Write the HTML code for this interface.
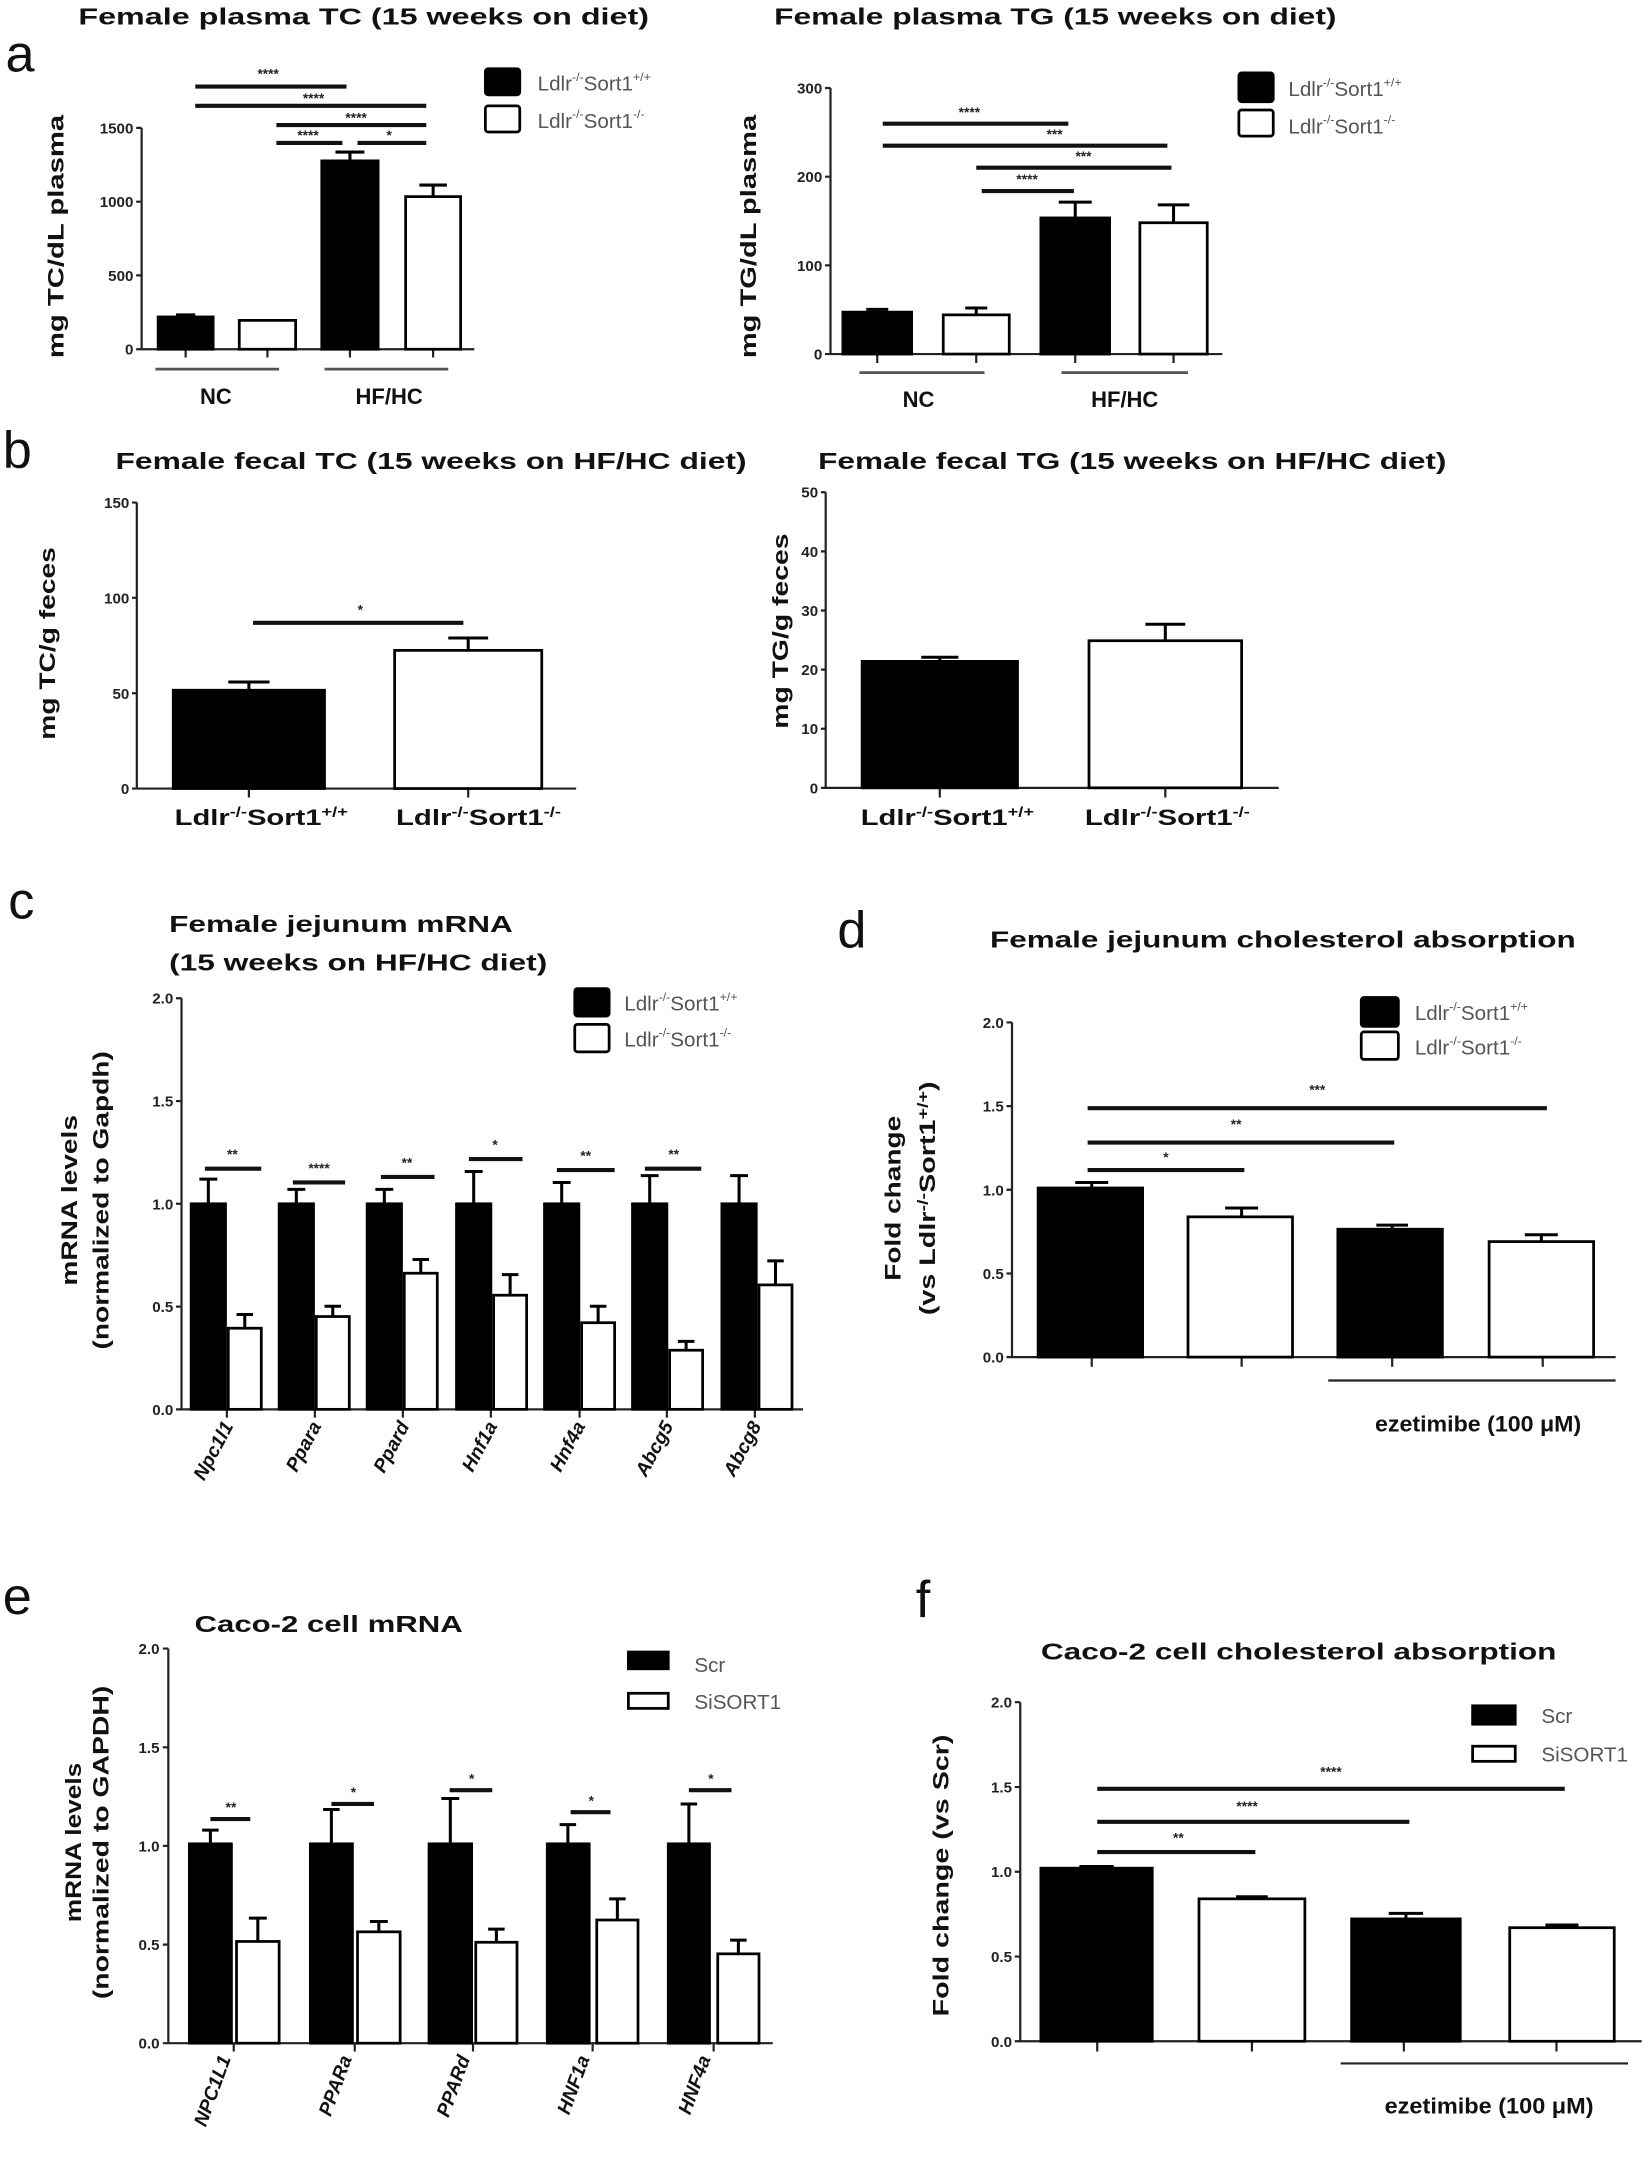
<!DOCTYPE html>
<html><head><meta charset="utf-8"><style>
html,body{margin:0;padding:0;background:#fff}
svg{display:block}
.t{font-family:"Liberation Sans Narrow","Liberation Sans",sans-serif;font-weight:bold;fill:#111}
.tk{font-family:"Liberation Sans Narrow","Liberation Sans",sans-serif;font-weight:bold;font-size:11px;fill:#222;text-anchor:end}
.yl{font-family:"Liberation Sans",sans-serif;font-weight:bold;font-size:16px;fill:#111;text-anchor:middle}
.lg{font-family:"Liberation Sans Narrow","Liberation Sans",sans-serif;font-size:15px;fill:#555}
.st{font-family:"Liberation Sans",sans-serif;font-weight:bold;font-size:10px;fill:#222;text-anchor:middle}
.lt{font-family:"Liberation Sans",sans-serif;font-size:38px;fill:#111}
.xl{font-family:"Liberation Sans Narrow","Liberation Sans",sans-serif;font-weight:bold;font-size:16px;fill:#111;text-anchor:middle}
.xr{font-family:"Liberation Sans",sans-serif;font-weight:bold;font-style:italic;font-size:14px;fill:#111;text-anchor:end}
.ax{stroke:#222;stroke-width:1.6;fill:none}
.sg{stroke:#111;stroke-width:3;fill:none}
.gl{stroke:#555;stroke-width:2;fill:none}
.b{fill:#000;stroke:#000;stroke-width:2}
.w{fill:#fff;stroke:#000;stroke-width:2}
.e{stroke:#000;stroke-width:2.2;fill:none}
</style></head><body>
<svg width="1650" height="2162" viewBox="0 0 1200 1572.4" xmlns="http://www.w3.org/2000/svg">

<!-- ===== Panel a TC ===== -->
<text class="lt" x="4" y="52">a</text>
<text class="t" x="57" y="18" font-size="17" textLength="415" lengthAdjust="spacingAndGlyphs">Female plasma TC (15 weeks on diet)</text>
<text class="yl" transform="rotate(-90 46 172)" x="46" y="172" textLength="177" lengthAdjust="spacingAndGlyphs">mg TC/dL  plasma</text>
<path class="ax" d="M103 93V254H345M99 93H103M99 200.3H103M99 146.7H103M99 254H103M135 254V260M194.5 254V260M254.5 254V260M315 254V260"/>
<text class="tk" x="97" y="97">1500</text><text class="tk" x="97" y="150.7">1000</text><text class="tk" x="97" y="204.3">500</text><text class="tk" x="97" y="258">0</text>
<rect class="b" x="115" y="230.5" width="40" height="23.5"/><path class="e" d="M135 230.5V229M128 229H142"/>
<rect class="w" x="174" y="233" width="41" height="21"/>
<rect class="b" x="234" y="117" width="41" height="137"/><path class="e" d="M254.5 117V110.6M244 110.6H265"/>
<rect class="w" x="295" y="143" width="40" height="111"/><path class="e" d="M315 143V134.6M305 134.6H325"/>
<path class="sg" d="M142 63H252M142 77H310M201 91H310M201 104H249M260 104H310"/>
<text class="st" x="195" y="57">****</text><text class="st" x="228" y="75">****</text><text class="st" x="259" y="89">****</text><text class="st" x="224" y="102">****</text><text class="st" x="283" y="102">*</text>
<path class="gl" d="M113 268.5H203M236 268.5H326"/>
<text class="xl" x="157" y="294">NC</text><text class="xl" x="283" y="294">HF/HC</text>
<rect class="b" x="353" y="50" width="25" height="19" rx="2"/><rect class="w" x="353" y="77" width="25" height="19" rx="2"/>
<text class="lg" x="391" y="66">Ldlr<tspan font-size="9" dy="-7">-/-</tspan><tspan dy="7">Sort1</tspan><tspan font-size="9" dy="-7">+/+</tspan></text>
<text class="lg" x="391" y="93">Ldlr<tspan font-size="9" dy="-7">-/-</tspan><tspan dy="7">Sort1</tspan><tspan font-size="9" dy="-7">-/-</tspan></text>

<!-- ===== Panel a TG ===== -->
<text class="t" x="563" y="18" font-size="17" textLength="409" lengthAdjust="spacingAndGlyphs">Female plasma TG (15 weeks on diet)</text>
<text class="yl" transform="rotate(-90 550 172)" x="550" y="172" textLength="177" lengthAdjust="spacingAndGlyphs">mg TG/dL  plasma</text>
<path class="ax" d="M604 64V257.5H889M600 64H604M600 128.5H604M600 193H604M600 257.5H604M638 257.5V264M710 257.5V264M782 257.5V264M853.5 257.5V264"/>
<text class="tk" x="598" y="68">300</text><text class="tk" x="598" y="132.5">200</text><text class="tk" x="598" y="197">100</text><text class="tk" x="598" y="261.5">0</text>
<rect class="b" x="613" y="227" width="50" height="30.5"/><path class="e" d="M638 227V225M630 225H646"/>
<rect class="w" x="686" y="229" width="48" height="28.5"/><path class="e" d="M710 229V224M702 224H718"/>
<rect class="b" x="757" y="158.5" width="50" height="99"/><path class="e" d="M782 158.5V147M770 147H794"/>
<rect class="w" x="829" y="162" width="49" height="95.5"/><path class="e" d="M853.5 162V149M842 149H865"/>
<path class="sg" d="M642 90H777M642 106H849M710 122H852M714 139H781"/>
<text class="st" x="705" y="85">****</text><text class="st" x="767" y="101">***</text><text class="st" x="788" y="117">***</text><text class="st" x="747" y="134">****</text>
<path class="gl" d="M625 271H716M772 271H864"/>
<text class="xl" x="668" y="296">NC</text><text class="xl" x="818" y="296">HF/HC</text>
<rect class="b" x="901" y="53" width="25" height="21" rx="2"/><rect class="w" x="901" y="80" width="25" height="19" rx="2"/>
<text class="lg" x="937" y="70">Ldlr<tspan font-size="9" dy="-7">-/-</tspan><tspan dy="7">Sort1</tspan><tspan font-size="9" dy="-7">+/+</tspan></text>
<text class="lg" x="937" y="97">Ldlr<tspan font-size="9" dy="-7">-/-</tspan><tspan dy="7">Sort1</tspan><tspan font-size="9" dy="-7">-/-</tspan></text>

<!-- ===== Panel b TC ===== -->
<text class="lt" x="2" y="340">b</text>
<text class="t" x="84" y="341" font-size="17" textLength="459" lengthAdjust="spacingAndGlyphs">Female fecal TC (15 weeks on HF/HC diet)</text>
<text class="yl" transform="rotate(-90 40 468)" x="40" y="468" textLength="140" lengthAdjust="spacingAndGlyphs">mg TC/g feces</text>
<path class="ax" d="M99.5 365.5V573.5H419M96 365.5H99.5M96 434.8H99.5M96 504.2H99.5M96 573.5H99.5M181 573.5V580M340.5 573.5V580"/>
<text class="tk" x="94" y="369.5">150</text><text class="tk" x="94" y="438.8">100</text><text class="tk" x="94" y="508.2">50</text><text class="tk" x="94" y="577.5">0</text>
<rect class="b" x="126" y="502" width="110" height="71.5"/><path class="e" d="M181 502V496M166 496H196"/>
<rect class="w" x="287" y="473" width="107" height="100.5"/><path class="e" d="M340.5 473V464M326 464H355"/>
<path class="sg" d="M184 453H337"/><text class="st" x="262" y="447">*</text>
<text class="xl" x="190" y="600" textLength="126" lengthAdjust="spacingAndGlyphs">Ldlr<tspan font-size="10" dy="-6">-/-</tspan><tspan dy="6">Sort1</tspan><tspan font-size="10" dy="-6">+/+</tspan></text>
<text class="xl" x="348" y="600" textLength="120" lengthAdjust="spacingAndGlyphs">Ldlr<tspan font-size="10" dy="-6">-/-</tspan><tspan dy="6">Sort1</tspan><tspan font-size="10" dy="-6">-/-</tspan></text>

<!-- ===== Panel b TG ===== -->
<text class="t" x="595" y="341" font-size="17" textLength="457" lengthAdjust="spacingAndGlyphs">Female fecal TG (15 weeks on HF/HC  diet)</text>
<text class="yl" transform="rotate(-90 573 459)" x="573" y="459" textLength="142" lengthAdjust="spacingAndGlyphs">mg TG/g feces</text>
<path class="ax" d="M600.5 358V573H930M597 358H600.5M597 401H600.5M597 444H600.5M597 487H600.5M597 530H600.5M597 573H600.5M683.5 573V580M847.5 573V580"/>
<text class="tk" x="595" y="362">50</text><text class="tk" x="595" y="405">40</text><text class="tk" x="595" y="448">30</text><text class="tk" x="595" y="491">20</text><text class="tk" x="595" y="534">10</text><text class="tk" x="595" y="577">0</text>
<rect class="b" x="627" y="481" width="113" height="92"/><path class="e" d="M683.5 481V478M670 478H697"/>
<rect class="w" x="792" y="466" width="111" height="107"/><path class="e" d="M847.5 466V454M833 454H862"/>
<text class="xl" x="689" y="600" textLength="126" lengthAdjust="spacingAndGlyphs">Ldlr<tspan font-size="10" dy="-6">-/-</tspan><tspan dy="6">Sort1</tspan><tspan font-size="10" dy="-6">+/+</tspan></text>
<text class="xl" x="849" y="600" textLength="120" lengthAdjust="spacingAndGlyphs">Ldlr<tspan font-size="10" dy="-6">-/-</tspan><tspan dy="6">Sort1</tspan><tspan font-size="10" dy="-6">-/-</tspan></text>

<!-- ===== Panel c ===== -->
<text class="lt" x="6" y="668">c</text>
<text class="t" x="123" y="678" font-size="17" textLength="250" lengthAdjust="spacingAndGlyphs">Female jejunum mRNA</text>
<text class="t" x="123" y="706" font-size="17" textLength="275" lengthAdjust="spacingAndGlyphs">(15 weeks on HF/HC  diet)</text>
<text class="yl" transform="rotate(-90 56 873)" x="56" y="873" textLength="124" lengthAdjust="spacingAndGlyphs">mRNA  levels</text>
<text class="yl" transform="rotate(-90 79 873)" x="79" y="873" textLength="217" lengthAdjust="spacingAndGlyphs">(normalized to Gapdh)</text>
<path class="ax" d="M132 726V1025H584M128 726H132M128 800.8H132M128 875.5H132M128 950.3H132M128 1025H132M165 1025V1031M229 1025V1031M293 1025V1031M357 1025V1031M421.5 1025V1031M485 1025V1031M549 1025V1031"/>
<text class="tk" x="126" y="730">2.0</text><text class="tk" x="126" y="804.8">1.5</text><text class="tk" x="126" y="879.5">1.0</text><text class="tk" x="126" y="954.3">0.5</text><text class="tk" x="126" y="1029">0.0</text>
<rect class="b" x="139" y="875.5" width="25" height="149.5"/><path class="e" d="M151.5 875.5V857.6M145 857.6H158"/>
<rect class="b" x="203" y="875.5" width="25" height="149.5"/><path class="e" d="M215.5 875.5V865M209 865H222"/>
<rect class="b" x="267" y="875.5" width="25" height="149.5"/><path class="e" d="M279.5 875.5V865M273 865H286"/>
<rect class="b" x="332" y="875.5" width="25" height="149.5"/><path class="e" d="M344.5 875.5V852M338 852H351"/>
<rect class="b" x="396" y="875.5" width="25" height="149.5"/><path class="e" d="M408.5 875.5V860M402 860H415"/>
<rect class="b" x="460" y="875.5" width="25" height="149.5"/><path class="e" d="M472.5 875.5V855M466 855H479"/>
<rect class="b" x="525" y="875.5" width="25" height="149.5"/><path class="e" d="M537.5 875.5V855M531 855H544"/>
<rect class="w" x="166" y="966" width="24" height="59"/><path class="e" d="M178 966V956M172 956H184"/>
<rect class="w" x="230" y="957.5" width="24" height="67.5"/><path class="e" d="M242 957.5V950M236 950H248"/>
<rect class="w" x="294" y="926" width="24" height="99"/><path class="e" d="M306 926V916M300 916H312"/>
<rect class="w" x="359" y="942" width="24" height="83"/><path class="e" d="M371 942V927M365 927H377"/>
<rect class="w" x="423" y="962" width="24" height="63"/><path class="e" d="M435 962V950M429 950H441"/>
<rect class="w" x="487" y="982" width="24" height="43"/><path class="e" d="M499 982V975.6M493 975.6H505"/>
<rect class="w" x="552" y="934.5" width="24" height="90.5"/><path class="e" d="M564 934.5V917M558 917H570"/>
<path class="sg" d="M149 850H190M213 860H251M277 856H316M341 843H380M405 851H447M469 850H510"/>
<text class="st" x="169" y="843">**</text><text class="st" x="232" y="853">****</text><text class="st" x="296" y="849">**</text><text class="st" x="360" y="836">*</text><text class="st" x="426" y="844">**</text><text class="st" x="490" y="843">**</text>
<text class="xr" transform="rotate(-62 170 1037)" x="170" y="1037">Npc1l1</text>
<text class="xr" transform="rotate(-62 234 1037)" x="234" y="1037">Ppara</text>
<text class="xr" transform="rotate(-62 298 1037)" x="298" y="1037">Ppard</text>
<text class="xr" transform="rotate(-62 362 1037)" x="362" y="1037">Hnf1a</text>
<text class="xr" transform="rotate(-62 426 1037)" x="426" y="1037">Hnf4a</text>
<text class="xr" transform="rotate(-62 490 1037)" x="490" y="1037">Abcg5</text>
<text class="xr" transform="rotate(-62 554 1037)" x="554" y="1037">Abcg8</text>
<rect class="b" x="418" y="719" width="25" height="20" rx="2"/><rect class="w" x="418" y="745" width="25" height="20" rx="2"/>
<text class="lg" x="454" y="735">Ldlr<tspan font-size="9" dy="-7">-/-</tspan><tspan dy="7">Sort1</tspan><tspan font-size="9" dy="-7">+/+</tspan></text>
<text class="lg" x="454" y="761">Ldlr<tspan font-size="9" dy="-7">-/-</tspan><tspan dy="7">Sort1</tspan><tspan font-size="9" dy="-7">-/-</tspan></text>

<!-- ===== Panel d ===== -->
<text class="lt" x="609" y="689">d</text>
<text class="t" x="720" y="689" font-size="17" textLength="426" lengthAdjust="spacingAndGlyphs">Female jejunum cholesterol absorption</text>
<text class="yl" transform="rotate(-90 655 871.5)" x="655" y="871.5" textLength="120" lengthAdjust="spacingAndGlyphs">Fold  change</text>
<text class="yl" transform="rotate(-90 680 871.5)" x="680" y="871.5" textLength="170" lengthAdjust="spacingAndGlyphs">(vs Ldlr<tspan font-size="11" dy="-5">-/-</tspan><tspan dy="5">Sort1</tspan><tspan font-size="11" dy="-5">+/+</tspan><tspan dy="5">)</tspan></text>
<path class="ax" d="M736 743.6V987H1175M732 743.6H736M732 804.5H736M732 865.3H736M732 926.2H736M732 987H736M794 987V994M903 987V994M1012.5 987V994M1122 987V994"/>
<text class="tk" x="730" y="747.6">2.0</text><text class="tk" x="730" y="808.5">1.5</text><text class="tk" x="730" y="869.3">1.0</text><text class="tk" x="730" y="930.2">0.5</text><text class="tk" x="730" y="991">0.0</text>
<rect class="b" x="755" y="864" width="76" height="123"/><path class="e" d="M794 864V860M782 860H806"/>
<rect class="w" x="864" y="885" width="76" height="102"/><path class="e" d="M903 885V878.6M891 878.6H915"/>
<rect class="b" x="973" y="894" width="76" height="93"/><path class="e" d="M1012.5 894V891M1001 891H1024"/>
<rect class="w" x="1083" y="903" width="76" height="84"/><path class="e" d="M1121 903V898M1109 898H1133"/>
<path class="sg" d="M791 806H1125M791 831H1014M791 851H905"/>
<text class="st" x="958" y="796">***</text><text class="st" x="899" y="821">**</text><text class="st" x="848" y="845">*</text>
<path class="ax" d="M966 1004H1175"/>
<text class="xl" x="1075" y="1041" textLength="150" lengthAdjust="spacingAndGlyphs">ezetimibe (100 μM)</text>
<rect class="b" x="990" y="725.5" width="27" height="21" rx="2"/><rect class="w" x="990" y="750.5" width="27" height="20" rx="2"/>
<text class="lg" x="1029" y="742">Ldlr<tspan font-size="9" dy="-7">-/-</tspan><tspan dy="7">Sort1</tspan><tspan font-size="9" dy="-7">+/+</tspan></text>
<text class="lg" x="1029" y="767">Ldlr<tspan font-size="9" dy="-7">-/-</tspan><tspan dy="7">Sort1</tspan><tspan font-size="9" dy="-7">-/-</tspan></text>

<!-- ===== Panel e ===== -->
<text class="lt" x="2" y="1174">e</text>
<text class="t" x="141.5" y="1187" font-size="17" textLength="195" lengthAdjust="spacingAndGlyphs">Caco-2 cell mRNA</text>
<text class="yl" transform="rotate(-90 59 1340)" x="59" y="1340" textLength="116" lengthAdjust="spacingAndGlyphs">mRNA  levels</text>
<text class="yl" transform="rotate(-90 79 1340)" x="79" y="1340" textLength="228" lengthAdjust="spacingAndGlyphs">(normalized to GAPDH)</text>
<path class="ax" d="M122.4 1199V1486H562M118.4 1199H122.4M118.4 1270.8H122.4M118.4 1342.5H122.4M118.4 1414.3H122.4M118.4 1486H122.4M170 1486V1492M258 1486V1492M344 1486V1492M431 1486V1492M519 1486V1492"/>
<text class="tk" x="116" y="1203">2.0</text><text class="tk" x="116" y="1274.8">1.5</text><text class="tk" x="116" y="1346.5">1.0</text><text class="tk" x="116" y="1418.3">0.5</text><text class="tk" x="116" y="1490">0.0</text>
<rect class="b" x="137.7" y="1341" width="30.6" height="145"/><path class="e" d="M153 1341V1331M147 1331H159"/>
<rect class="b" x="225.7" y="1341" width="30.6" height="145"/><path class="e" d="M241 1341V1316M235 1316H247"/>
<rect class="b" x="312" y="1341" width="31" height="145"/><path class="e" d="M327.5 1341V1308M321 1308H334"/>
<rect class="b" x="398" y="1341" width="30.5" height="145"/><path class="e" d="M413 1341V1327M407 1327H419"/>
<rect class="b" x="486" y="1341" width="30" height="145"/><path class="e" d="M501 1341V1312M495 1312H507"/>
<rect class="w" x="172" y="1412" width="31" height="74"/><path class="e" d="M187.5 1412V1395M181 1395H194"/>
<rect class="w" x="260" y="1405" width="31" height="81"/><path class="e" d="M275.5 1405V1397.5M269 1397.5H282"/>
<rect class="w" x="346" y="1412.6" width="30" height="73.4"/><path class="e" d="M361 1412.6V1403M355 1403H367"/>
<rect class="w" x="434" y="1396.4" width="30" height="89.6"/><path class="e" d="M449 1396.4V1381M443 1381H455"/>
<rect class="w" x="522" y="1421" width="30" height="65"/><path class="e" d="M537 1421V1411M531 1411H543"/>
<path class="sg" d="M153 1323H182M241 1312H272M327 1302H358M415 1318H444M501 1302H532"/>
<text class="st" x="168" y="1318">**</text><text class="st" x="257" y="1307">*</text><text class="st" x="343" y="1297">*</text><text class="st" x="430" y="1313">*</text><text class="st" x="517" y="1297">*</text>
<text class="xr" transform="rotate(-70 168 1497)" x="168" y="1497">NPC1L1</text>
<text class="xr" transform="rotate(-70 256 1497)" x="256" y="1497">PPARa</text>
<text class="xr" transform="rotate(-70 342 1497)" x="342" y="1497">PPARd</text>
<text class="xr" transform="rotate(-70 429 1497)" x="429" y="1497">HNF1a</text>
<text class="xr" transform="rotate(-70 517 1497)" x="517" y="1497">HNF4a</text>
<rect class="b" x="457" y="1201.5" width="29" height="12.2"/><rect class="w" x="457" y="1231.5" width="29" height="11"/>
<text class="lg" x="505" y="1216">Scr</text><text class="lg" x="505" y="1243">SiSORT1</text>

<!-- ===== Panel f ===== -->
<text class="lt" x="666" y="1176">f</text>
<text class="t" x="757" y="1207" font-size="17" textLength="375" lengthAdjust="spacingAndGlyphs">Caco-2 cell cholesterol absorption</text>
<text class="yl" transform="rotate(-90 690 1364)" x="690" y="1364" textLength="205" lengthAdjust="spacingAndGlyphs">Fold  change (vs  Scr)</text>
<path class="ax" d="M742 1238V1484.6H1194M738 1238H742M738 1299.7H742M738 1361.3H742M738 1423H742M738 1484.6H742M798 1484.6V1492M910.5 1484.6V1492M1021 1484.6V1492M1132 1484.6V1492"/>
<text class="tk" x="736" y="1242">2.0</text><text class="tk" x="736" y="1303.7">1.5</text><text class="tk" x="736" y="1365.3">1.0</text><text class="tk" x="736" y="1427">0.5</text><text class="tk" x="736" y="1488.6">0.0</text>
<rect class="b" x="757" y="1358.7" width="81" height="125.9"/><path class="e" d="M797.5 1358.7V1357.5M785 1357.5H810"/>
<rect class="w" x="872" y="1381" width="77" height="103.6"/><path class="e" d="M910.5 1381V1379.5M899 1379.5H922"/>
<rect class="b" x="983" y="1395.6" width="79" height="89"/><path class="e" d="M1022.5 1395.6V1391.6M1010 1391.6H1035"/>
<rect class="w" x="1098" y="1402" width="76" height="82.6"/><path class="e" d="M1136 1402V1400M1124 1400H1148"/>
<path class="sg" d="M798 1301H1138M798 1325H1025M798 1347H913"/>
<text class="st" x="968" y="1292">****</text><text class="st" x="907" y="1317">****</text><text class="st" x="857" y="1340">**</text>
<path class="ax" d="M975 1500.7H1184"/>
<text class="xl" x="1083" y="1537" textLength="152" lengthAdjust="spacingAndGlyphs">ezetimibe (100 μM)</text>
<rect class="b" x="1071" y="1240.6" width="31" height="13.4"/><rect class="w" x="1071" y="1270" width="31" height="11"/>
<text class="lg" x="1121" y="1253">Scr</text><text class="lg" x="1121" y="1281">SiSORT1</text>
</svg>
</body></html>
